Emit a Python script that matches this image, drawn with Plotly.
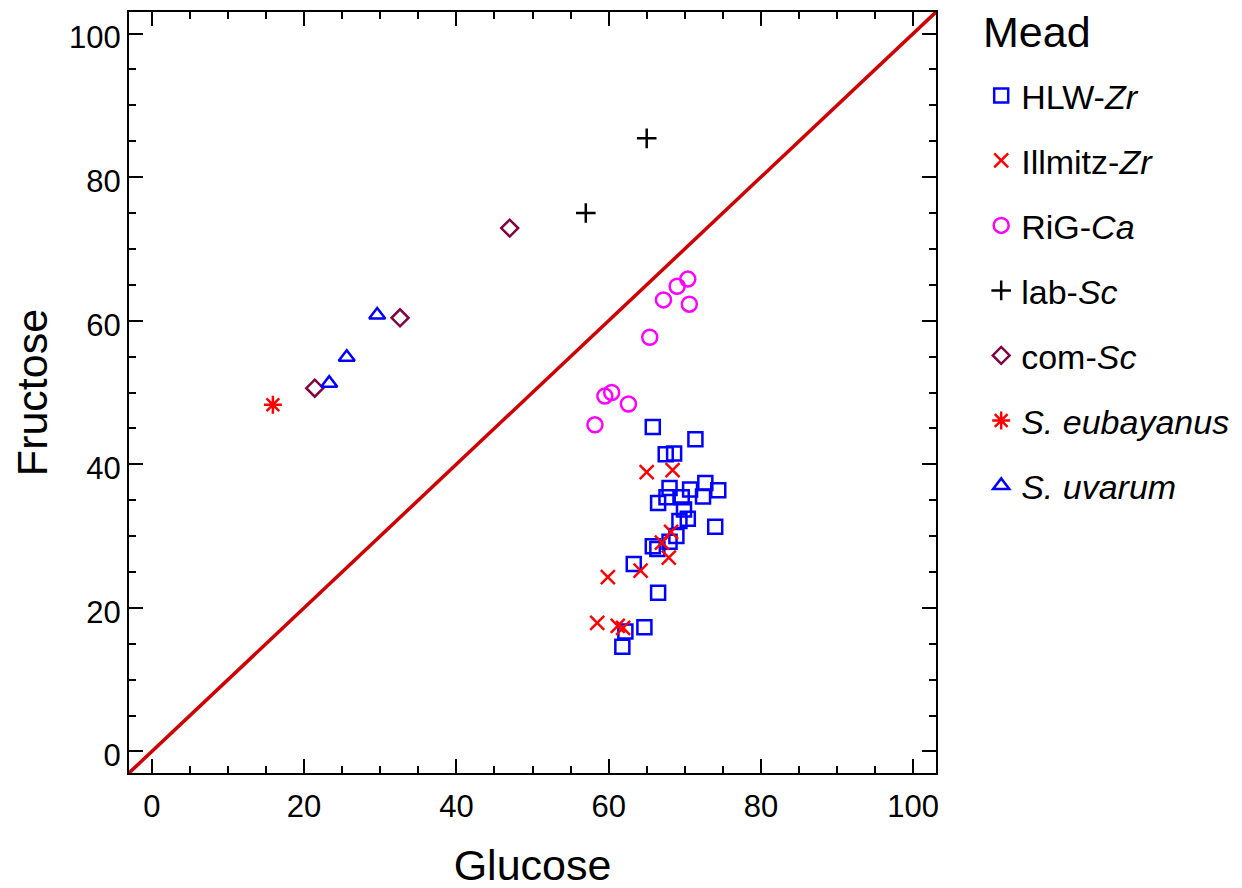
import plotly.graph_objects as go

# ---------------- data ----------------
hlw_glu = [65.8, 71.4, 67.5, 68.6, 68.0, 70.7, 72.7, 74.4, 72.4, 67.6, 69.6, 66.5, 69.9, 70.4, 69.3,
           74.0, 68.9, 68.0, 65.8, 66.4, 63.3, 66.5, 64.7, 62.2, 61.8]
hlw_fru = [45.2, 43.5, 41.4, 41.5, 36.7, 36.5, 37.4, 36.4, 35.5, 35.4, 35.4, 34.6, 33.7, 32.4, 32.1,
           31.3, 30.0, 29.2, 28.6, 28.2, 26.1, 22.1, 17.3, 16.7, 14.6]

ill_glu = [65.0, 68.4, 68.2, 67.0, 67.9, 64.2, 59.9, 58.5, 61.2, 61.9]
ill_fru = [38.9, 39.2, 30.6, 29.1, 27.0, 25.2, 24.3, 17.9, 17.5, 17.2]

rig_glu = [70.4, 69.0, 67.2, 70.6, 65.4, 60.4, 59.5, 62.6, 58.2]
rig_fru = [65.8, 64.8, 62.9, 62.3, 57.7, 50.0, 49.5, 48.4, 45.5]

lab_glu = [65.0, 57.0]
lab_fru = [85.4, 75.0]

com_glu = [47.0, 32.6, 21.4]
com_fru = [72.9, 60.4, 50.6]

eub_glu = [15.9]
eub_fru = [48.3]

uva_glu = [29.6, 25.6, 23.3]
uva_fru = [60.8, 54.9, 51.3]

axis_range = [-3, 103]
tick_vals = [0, 20, 40, 60, 80, 100]
tick_text = ["0", "20", "40", "60", "80", "100"]

FONT = "Arial, Liberation Sans, sans-serif"

series = [
    ("HLW-<i>Zr</i>", hlw_glu, hlw_fru, "square-open", "#0000ff", 14),
    ("Illmitz-<i>Zr</i>", ill_glu, ill_fru, "x-thin-open", "#ff0000", 14),
    ("RiG-<i>Ca</i>", rig_glu, rig_fru, "circle-open", "#ff00ff", 15),
    ("lab-<i>Sc</i>", lab_glu, lab_fru, "cross-thin-open", "#000000", 14),
    ("com-<i>Sc</i>", com_glu, com_fru, "diamond-open", "#800040", 13),
    ("<i>S. eubayanus</i>", eub_glu, eub_fru, "asterisk-open", "#ff0000", 15),
    ("<i>S. uvarum</i>", uva_glu, uva_fru, "triangle-up-open", "#0000ff", 14),
]

fig = go.Figure()

# identity line y = x
fig.add_trace(go.Scatter(x=axis_range, y=axis_range, mode="lines",
                         line=dict(color="#cc0000", width=3.5),
                         showlegend=False, hoverinfo="skip"))

for i, (name, gx, fy, sym, col, sz) in enumerate(series):
    fig.add_trace(go.Scatter(
        x=gx, y=fy, mode="markers", name=name, legendgroup=f"g{i}",
        marker=dict(symbol=sym, size=sz, color=col,
                    line=dict(color=col, width=2.5)),
    ))

axis_common = dict(
    range=axis_range, tickmode="array", tickvals=tick_vals, ticktext=tick_text,
    showgrid=False, zeroline=False, showline=True, linecolor="black", linewidth=2,
    mirror="allticks", ticks="inside", ticklen=14, tickwidth=2, tickcolor="black",
    minor=dict(ticks="inside", ticklen=7, tickwidth=2, tickcolor="black", dtick=5, showgrid=False),
    tickfont=dict(family=FONT, size=31, color="black"),
    automargin=False,
)

fig.update_xaxes(**axis_common, ticklabelstandoff=5,
                 title=dict(text="Glucose", font=dict(family=FONT, size=43, color="black"), standoff=27))
fig.update_yaxes(**axis_common, ticklabelshift=4,
                 title=dict(text="Fructose", font=dict(family=FONT, size=43, color="black"), standoff=24))

fig.add_annotation(text="Mead", xref="paper", yref="paper", x=1.0555, y=1.0, yshift=-20,
                   xanchor="left", yanchor="middle", showarrow=False,
                   font=dict(family=FONT, size=43, color="black"))

fig.update_layout(
    width=1242, height=888,
    margin=dict(l=121, r=314, t=4, b=123),
    paper_bgcolor="white", plot_bgcolor="white",
    font=dict(family=FONT, color="black"),
    legend=dict(
        font=dict(family=FONT, size=34, color="black"),
        x=1.056, y=0.928, xanchor="left", yanchor="top",
        tracegroupgap=17.8, itemsizing="trace",
        bgcolor="rgba(0,0,0,0)",
    ),
)

fig.write_html("out.html")
